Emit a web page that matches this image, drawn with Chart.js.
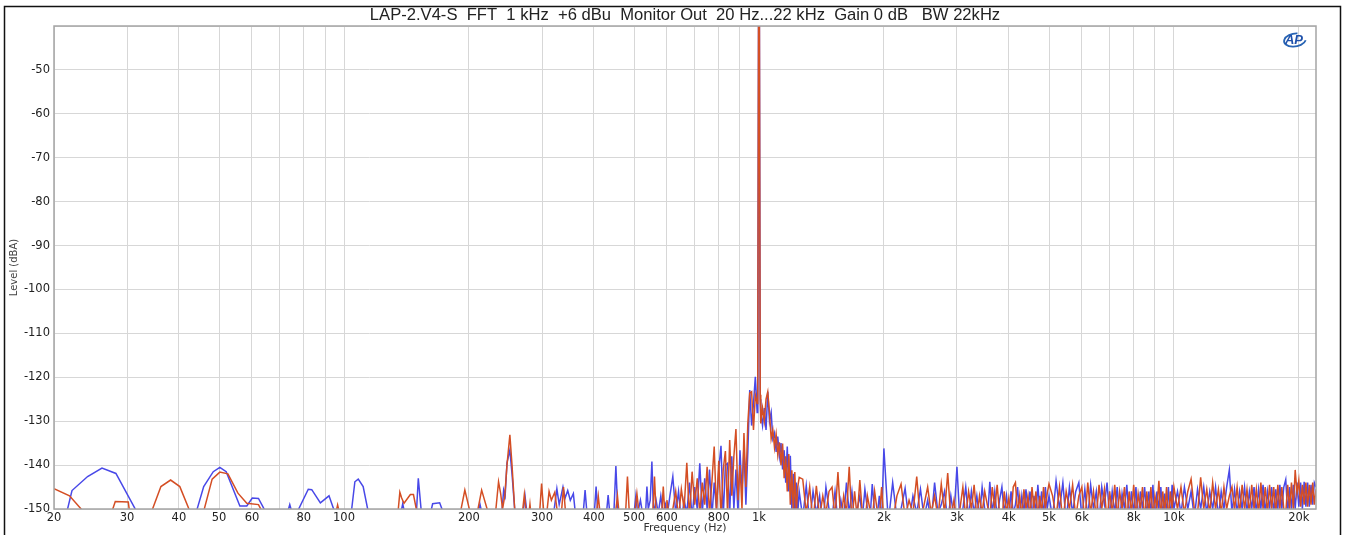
<!DOCTYPE html>
<html>
<head>
<meta charset="utf-8">
<script src="https://cdn.jsdelivr.net/npm/chart.js@4.4.1/dist/chart.umd.min.js"></script>
<style>
  body { margin: 0; background: #fff; }
  canvas { display: block; }
</style>
</head>
<body>
<canvas id="fftChart" width="1346" height="535"></canvas>
<script>
// title + axis labels
const chartTitle = 'LAP-2.V4-S  FFT  1 kHz  +6 dBu  Monitor Out  20 Hz...22 kHz  Gain 0 dB   BW 22kHz';
const xTitle = 'Frequency (Hz)';
const yTitle = 'Level (dBA)';

// x grid lines and the labelled ones
const gridHz = [20, 30, 40, 50, 60, 70, 80, 90, 100, 200, 300, 400, 500, 600, 700, 800, 900,
  1000, 2000, 3000, 4000, 5000, 6000, 7000, 8000, 9000, 10000, 20000];
const xLabelHz = [20, 30, 40, 50, 60, 80, 100, 200, 300, 400, 500, 600, 800, 1000, 2000, 3000, 4000, 5000, 6000, 8000, 10000, 20000];
const xLabelText = ['20', '30', '40', '50', '60', '80', '100', '200', '300', '400', '500', '600', '800', '1k', '2k', '3k', '4k', '5k', '6k', '8k', '10k', '20k'];
const yMin = -150, yMax = -40, yStep = 10;

// low band, blue channel (20..600 Hz)
const blueLowHz = [
  20, 21.5, 22.1, 24.1, 26.1, 28.2, 31.6, 33, 43, 44.1,
  45.9, 48.4, 50.2, 52, 56.1, 58.3, 60.1, 62.2, 64.6, 66,
  72, 73, 74, 75, 76.5, 77.3, 82, 83.6, 87.7, 92,
  94.8, 97, 103, 104.2, 106.2, 108.2, 111.2, 114.3, 117, 136,
  137, 138.5, 140, 148.5, 149.5, 151, 153.5, 160, 162, 163.5,
  170, 173, 175, 205, 210, 212.6, 215, 238, 240, 242.5,
  244.5, 247, 251, 254, 258, 262, 268, 270, 273, 276,
  280, 318, 320, 325.8, 330, 337, 341, 346, 351, 357,
  361, 365, 374, 377, 381, 385, 390, 398, 401, 405,
  409, 426, 429, 433, 437, 444, 447, 452, 457, 495,
  500, 505, 510, 518, 524, 530, 533, 537, 541, 547,
  552, 557, 565, 572, 580, 587, 595];
const blueLowDb = [
  -165, -150.5, -145.8, -142.6, -140.7, -141.9, -150.5, -165, -165, -150.5,
  -144.9, -141.5, -140.5, -141.5, -149.3, -149.3, -147.5, -147.6, -150.5, -165,
  -165, -151, -149, -151, -165, -150.5, -145.5, -145.6, -148.6, -147,
  -150.5, -165, -165, -150.5, -143.8, -143.2, -144.9, -150.5, -165, -165,
  -151, -148.8, -151, -165, -150.5, -143, -150.5, -165, -150.5, -148.8,
  -148.6, -150.5, -165, -165, -151, -148.9, -151, -165, -151, -145.7,
  -147, -139.5, -136.6, -142, -150.5, -165, -165, -151, -147, -151,
  -165, -165, -151, -145.4, -149, -145, -147.5, -145.8, -148, -146.5,
  -151, -165, -165, -151, -145.7, -151, -165, -165, -151, -144.9,
  -151, -165, -151, -146.8, -151, -165, -151, -140.2, -151, -165,
  -151, -147, -151, -148, -151, -165, -151, -144.9, -150, -148,
  -139.2, -151, -148, -151, -147, -151, -149];

// low band, orange channel (20..600 Hz)
const orangeLowHz = [
  20, 21.8, 23.5, 25, 27, 27.6, 28.1, 30.2, 30.4, 32,
  33.5, 34.4, 36.2, 38.2, 40.2, 42.5, 44, 45, 45.9, 48.1,
  50.2, 52.5, 55.5, 58.3, 62.2, 63.4, 65, 94, 95.5, 96.5,
  97.5, 99, 134, 135, 136.3, 137.7, 139.5, 144.5, 147, 149.7,
  152, 189, 191, 195.5, 201, 204, 208, 209.8, 214.6, 222,
  225, 230, 232, 235.7, 238.5, 241, 244, 247, 251, 254,
  258, 262, 266, 269, 272, 275, 279, 280.6, 282, 285,
  294, 296, 299.3, 303, 306, 308, 312, 316, 322, 327,
  330, 334, 338, 342, 346, 403, 406, 410, 414, 418,
  448, 451, 456, 460, 464, 474, 477, 482, 487, 492,
  500, 502, 508, 514, 518, 552, 555, 560, 565, 570,
  580, 583, 588, 593, 597];
const orangeLowDb = [
  -145.4, -147, -150.5, -165, -165, -150.5, -148.3, -148.4, -150.5, -165,
  -165, -150.5, -144.9, -143.4, -144.9, -150.5, -165, -165, -150.5, -143.2,
  -141.6, -142, -146.4, -148.7, -149, -150.5, -165, -165, -151, -149.1,
  -151, -165, -165, -150.5, -146.2, -147.5, -148.7, -146.7, -146.7, -150.5,
  -165, -165, -150.5, -145.7, -150.5, -165, -165, -150.5, -145.7, -150.5,
  -165, -165, -150.5, -143.8, -146.5, -150, -147, -140, -133.1, -140,
  -150.5, -165, -165, -151, -146.7, -151, -151, -148.9, -151, -165,
  -165, -151, -144.2, -151, -165, -151, -146, -148, -146.2, -151,
  -165, -151, -145, -151, -165, -165, -151, -147.1, -151, -165,
  -165, -151, -147, -151, -165, -165, -151, -142.6, -151, -165,
  -165, -151, -146.5, -151, -165, -165, -151, -142.6, -151, -165,
  -165, -151, -144.9, -151, -165];

// shared band 600 Hz .. 22 kHz (tone skirt + noise floor)
const bandHz = [
  600, 610, 620, 630, 640, 650, 660, 670, 680, 690,
  700, 710, 720, 730, 740, 750, 760, 770, 780, 790,
  800, 810, 820, 830, 840, 850, 860, 870, 880, 890,
  900, 910, 920, 930, 940, 950, 960, 970, 980, 990,
  993, 1000, 1007,
  1010, 1020, 1030, 1040, 1050, 1060, 1070, 1080, 1090, 1100,
  1110, 1120, 1130, 1140, 1150, 1160, 1170, 1180, 1190, 1200,
  1210, 1220, 1230, 1240, 1250,
  1275, 1300, 1325, 1350, 1375, 1400, 1425, 1450, 1475, 1500,
  1525, 1550, 1575, 1600, 1625, 1650, 1675, 1700, 1725, 1750,
  1775, 1800, 1825, 1850, 1875, 1900, 1925, 1950, 1975, 2000,
  2050, 2100, 2150, 2200, 2250, 2300, 2350, 2400, 2450, 2500,
  2550, 2600, 2650, 2700, 2750, 2800, 2850, 2900, 2950, 3000,
  3050, 3100, 3150, 3200, 3250, 3300, 3350, 3400, 3450, 3500,
  3550, 3600, 3650, 3700, 3750, 3800, 3850, 3900, 3950, 4000,
  4050, 4100, 4150, 4200, 4250, 4300, 4350, 4400, 4450, 4500,
  4550, 4600, 4650, 4700, 4750, 4800, 4850, 4900, 4950, 5000,
  5100, 5200, 5300, 5400, 5500, 5600, 5700, 5800, 5900, 6000,
  6100, 6200, 6300, 6400, 6500, 6600, 6700, 6800, 6900, 7000,
  7100, 7200, 7300, 7400, 7500, 7600, 7700, 7800, 7900, 8000,
  8100, 8200, 8300, 8400, 8500, 8600, 8700, 8800, 8900, 9000,
  9100, 9200, 9300, 9400, 9500, 9600, 9700, 9800, 9900, 10000,
  10200, 10400, 10600, 10800, 11000, 11200, 11400, 11600, 11800, 12000,
  12200, 12400, 12600, 12800, 13000, 13200, 13400, 13600, 13800, 14000,
  14200, 14400, 14600, 14800, 15000, 15200, 15400, 15600, 15800, 16000,
  16200, 16400, 16600, 16800, 17000, 17200, 17400, 17600, 17800, 18000,
  18200, 18400, 18600, 18800, 19000, 19200, 19400, 19600, 19800, 20000,
  20200, 20400, 20600, 20800, 21000, 21200, 21400, 21600, 21800, 22000];
const blueBandDb = [
  -152, -147, -142.6, -151, -146, -153, -148, -151, -144, -152,
  -145, -150, -139.6, -151, -143, -150, -141, -152, -144, -150,
  -141, -135.6, -152, -140, -139.6, -151, -138, -150, -141, -151,
  -136.6, -146, -135.8, -149, -137, -122.9, -131, -126, -119.9, -128,
  -124, 5, -125,
  -128, -131, -127, -132, -123.3, -130, -128, -134, -132.7, -137,
  -133.5, -138, -135, -141, -136.6, -144, -135.8, -146, -137.9, -150,
  -142, -152, -144, -151, -146,
  -152, -144.7, -153, -146, -151, -147, -154, -145, -150, -152,
  -146, -153, -148, -152, -144, -151, -146, -153, -150, -147,
  -152, -145.5, -150, -153, -144.3, -151, -152, -147, -153, -136.2,
  -153, -144, -152, -150, -145.3, -153, -147, -151, -145.5, -152,
  -148, -153, -144, -151, -149, -146, -153, -147, -152, -140.4,
  -153, -150, -145, -152, -146, -151, -147, -152, -145, -150,
  -153, -143.8, -151, -146, -152, -148, -145, -151, -147, -152,
  -146, -151, -149, -145, -152, -147, -151, -145.5, -150, -146,
  -152, -147, -151, -144.5, -150, -146, -152, -145, -150, -147,
  -152, -143.6, -150, -144, -153, -145, -151, -146, -144, -152,
  -145.5, -152, -144.5, -150, -146, -153, -145, -149, -144, -152,
  -146, -151, -145, -153, -146.5, -150, -144.5, -152, -146, -151,
  -145, -153, -146, -150, -145, -152, -146, -151, -144.5, -153,
  -146, -150, -145, -152, -146.5, -151, -145, -153, -144.5, -150,
  -146, -151, -145, -150, -146, -152, -145.5, -150, -145, -151,
  -146, -150, -145, -152, -146, -150, -145, -141.1, -151, -145.5,
  -151, -146, -150, -145, -151, -146, -150, -145, -151, -145.5,
  -150, -144.5, -151, -146, -150, -145, -151, -145.5, -150, -144.5,
  -150, -145, -143.3, -151, -145, -150, -144.5, -150, -144, -149.5,
  -144, -150, -143.8, -149.5, -144, -149.5, -144.5, -149, -144, -145];
const orangeBandDb = [
  -148, -153, -150, -146, -152, -145.5, -150, -139.5, -152, -141.5,
  -149, -143, -151, -144, -149, -140.4, -151, -144, -135.8, -151,
  -139, -152, -141, -136.8, -151, -134.3, -147, -138, -131.8, -148,
  -140, -150, -132.7, -145, -130.5, -123.6, -123.3, -132, -124.1, -126,
  -122, 5, -124,
  -130.5, -127, -130, -125, -123.3, -128, -134, -132, -136, -133,
  -137.7, -134.8, -140, -135.1, -143, -138, -146, -137.5, -149, -141.2,
  -151, -141.6, -151, -145, -142.8,
  -143.2, -151, -145, -153, -144.7, -152, -147, -151, -146, -145,
  -152, -141.6, -153, -147, -151, -140.4, -153, -146, -152, -143.4,
  -151, -154, -147, -150, -153, -146, -150, -152, -145, -153,
  -151, -153, -147, -144.3, -152, -148, -151, -142.6, -153, -149,
  -145, -151, -147, -152, -144.3, -151, -141.8, -152, -148, -153,
  -150, -145, -152, -146, -150, -144.5, -152, -147, -151, -146,
  -149, -152, -145, -150, -144.5, -151, -153, -146, -151, -147.5,
  -152, -145, -144, -151, -147, -152, -145.5, -150, -147, -152,
  -145, -150, -146, -152, -147, -151, -145, -150, -146.5, -144.3,
  -147, -152, -145, -153, -146, -150, -144.5, -152, -147, -145,
  -153, -144, -151, -146, -152, -144.5, -150, -145.5, -153, -146,
  -151, -144.5, -152, -146, -150, -145, -153, -146, -151, -144.5,
  -152, -146.5, -150, -145, -153, -146, -151, -145, -152, -147,
  -150, -143.6, -152, -146, -151, -145, -153, -146, -150, -145,
  -150, -145, -151, -146, -143.2, -150, -151, -142.8, -150, -145.5,
  -151, -144, -150, -145.5, -151, -145, -150, -147, -145, -150,
  -145, -151, -144.5, -150, -145.5, -151, -144.5, -150, -145.5, -151,
  -144, -150, -145, -151, -144.5, -150, -145, -151, -144.5, -150,
  -145, -150, -151, -144.5, -150, -144, -150, -141.1, -146.5, -143.5,
  -149.5, -144.5, -149, -144, -149.5, -144.5, -149, -144, -149, -145.5];

function toPoints(hz, db) {
  return hz.map((f, i) => ({ x: f, y: db[i] }));
}

const blueData = toPoints(blueLowHz, blueLowDb).concat(toPoints(bandHz, blueBandDb));
const orangeData = toPoints(orangeLowHz, orangeLowDb).concat(toPoints(bandHz, orangeBandDb));

// frame, title text and AP mark
const decorPlugin = {
  id: 'decor',
  beforeDraw(chart) {
    const c = chart.ctx;
    c.save();
    c.fillStyle = '#fff';
    c.fillRect(0, 0, chart.width, chart.height);
    c.restore();
  },
  afterDraw(chart) {
    const c = chart.ctx;
    const a = chart.chartArea;
    c.save();
    // plot frame
    c.strokeStyle = 'rgb(165,165,165)';
    c.lineWidth = 1.5;
    c.strokeRect(a.left, a.top, a.right - a.left, a.bottom - a.top);
    // outer border
    c.strokeStyle = '#111';
    c.lineWidth = 1.5;
    c.beginPath();
    c.moveTo(4.5, chart.height);
    c.lineTo(4.5, 6.5);
    c.lineTo(1340.5, 6.5);
    c.lineTo(1340.5, chart.height);
    c.stroke();
    // title
    c.fillStyle = '#222';
    c.font = '16.6px "Liberation Sans", Arial, sans-serif';
    c.textAlign = 'center';
    c.textBaseline = 'middle';
    c.fillText(chartTitle, (a.left + a.right) / 2, 15);
    // AP logo
    c.strokeStyle = 'rgb(40,100,180)';
    c.lineWidth = 1.8;
    c.beginPath();
    c.ellipse(1295, 40, 11, 6.5, -0.15, 0.3, Math.PI * 1.6);
    c.stroke();
    c.fillStyle = 'rgb(30,80,170)';
    c.font = 'italic bold 13px "Liberation Sans", Arial, sans-serif';
    c.fillText('AP', 1294, 40);
    c.restore();
  }
};

const ctx = document.getElementById('fftChart').getContext('2d');
const fftChart = new Chart(ctx, {
  type: 'line',
  data: {
    datasets: [
      {
        label: 'Ch A',
        data: blueData,
        borderColor: 'rgb(72,72,232)',
        borderWidth: 1.5,
        pointRadius: 0,
        tension: 0,
        order: 1
      },
      {
        label: 'Ch B',
        data: orangeData,
        borderColor: 'rgb(212,78,36)',
        borderWidth: 1.5,
        pointRadius: 0,
        tension: 0,
        order: 0
      }
    ]
  },
  options: {
    responsive: false,
    animation: false,
    layout: { padding: { left: 0, right: 30, top: 26, bottom: 0 } },
    plugins: {
      legend: { display: false },
      title: { display: false },
      tooltip: { enabled: false }
    },
    scales: {
      x: {
        type: 'logarithmic',
        min: 20,
        max: 22000,
        afterBuildTicks(scale) {
          scale.ticks = gridHz.map(v => ({ value: v }));
        },
        afterFit(scale) { scale.height = 26; },
        ticks: {
          autoSkip: false,
          maxRotation: 0,
          minRotation: 0,
          padding: 2,
          color: '#222',
          font: { family: 'DejaVu Sans', size: 11.5 },
          callback(value) {
            const i = xLabelHz.indexOf(value);
            return i >= 0 ? xLabelText[i] : '';
          }
        },
        grid: { color: 'rgb(215,215,215)', drawTicks: false },
        border: { display: false },
        title: {
          display: true,
          text: xTitle,
          color: '#333',
          font: { family: 'DejaVu Sans', size: 11 },
          padding: { top: 0, bottom: 0 }
        }
      },
      y: {
        min: yMin,
        max: yMax,
        afterFit(scale) { scale.width = 54; },
        ticks: {
          stepSize: yStep,
          padding: 4,
          color: '#222',
          font: { family: 'DejaVu Sans', size: 11.5 },
          callback(value) { return value === yMax ? '' : value; }
        },
        grid: { color: 'rgb(215,215,215)', drawTicks: false },
        border: { display: false },
        title: {
          display: true,
          text: yTitle,
          color: '#444',
          font: { family: 'DejaVu Sans', size: 10 },
          padding: { top: 8, bottom: 0 }
        }
      }
    }
  },
  plugins: [decorPlugin]
});
</script>
</body>
</html>
